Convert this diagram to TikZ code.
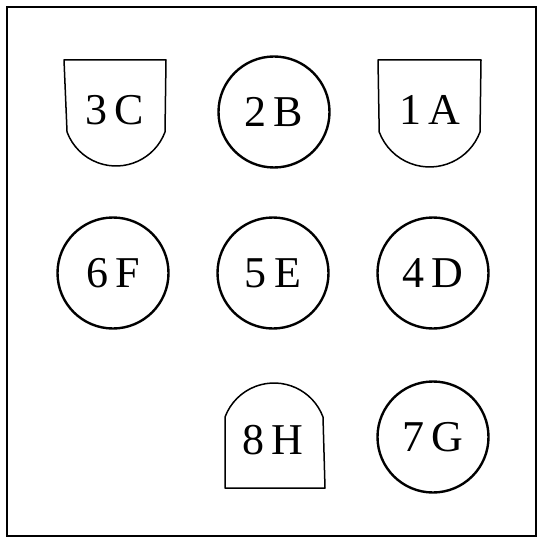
\documentclass[tikz,border=0pt]{standalone}
\usepackage{fontspec}
\setmainfont{Liberation Serif}
\begin{document}
\begin{tikzpicture}[x=1pt,y=-1pt,
  ring/.style={circle,draw,line width=2.4pt,minimum size=111pt,inner sep=0pt,font=\fontsize{44}{48}\selectfont},
  shieldline/.style={draw,line width=1.5pt,line join=round},
  lbl/.style={font=\fontsize{44}{48}\selectfont,inner sep=0pt}]
\useasboundingbox (0,0) rectangle (537,537);
\draw[line width=2.5pt] (7,7) rectangle (536,536);
% shields
\draw[shieldline] (64,60) -- (166,60) -- (165,132) arc[start angle=20.5,end angle=159.5,radius=52.3] -- cycle;
\node[lbl] (c) at (115,110) {3\,C};
\draw[shieldline] (378,60) -- (481,60) -- (480,132) arc[start angle=20.5,end angle=159.5,radius=53.8] -- cycle;
\node[lbl] (a) at (430,110) {1\,A};
\draw[shieldline] (225,488) -- (325,488) -- (323,417) arc[start angle=-20.5,end angle=-159.5,radius=52.3] -- cycle;
\node[lbl] (h) at (273,440) {8\,H};
% circles
\node[ring] (b) at (274,112) {2\,B};
\node[ring] (f) at (113,273) {6\,F};
\node[ring] (e) at (273,273) {5\,E};
\node[ring] (d) at (433,273) {4\,D};
\node[ring] (g) at (433,437) {7\,G};
\end{tikzpicture}
\end{document}
